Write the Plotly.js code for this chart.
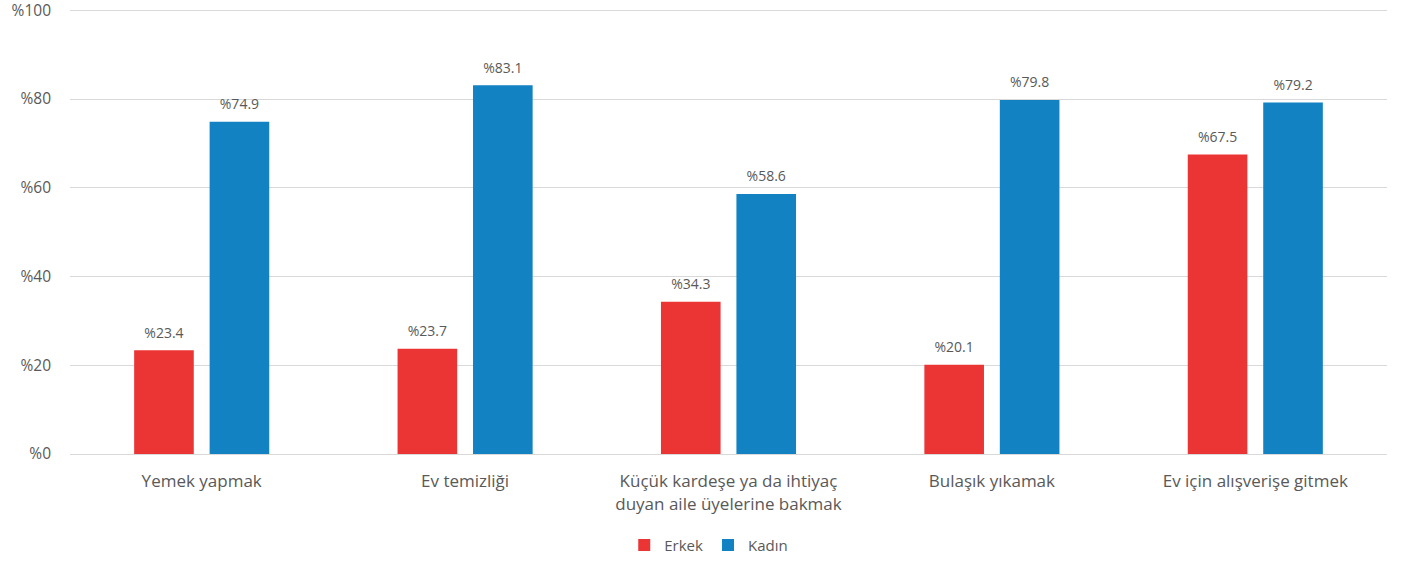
<!DOCTYPE html>
<html>
<head>
<meta charset="utf-8">
<script src="https://cdn.plot.ly/plotly-3.0.1.min.js"></script>
<style>html,body{margin:0;padding:0;background:#fff;}#chart{width:1403px;height:562px;}</style>
</head>
<body>
<div id="chart"></div>
<script>
const categories = ["Yemek yapmak", "Ev temizliği", "Küçük kardeşe ya da ihtiyaç<br>duyan aile üyelerine bakmak", "Bulaşık yıkamak", "Ev için alışverişe gitmek"];
const erkek = [23.4, 23.7, 34.3, 20.1, 67.5];
const kadin = [74.9, 83.1, 58.6, 79.8, 79.2];
const seriesNames = ["Erkek", "Kadın"];
const yTickVals = [0, 20, 40, 60, 80, 100];
const yTickText = ["%0", "%20", "%40", "%60", "%80", "%100"];

const font = "'Open Sans', sans-serif";
const gray = "#595959";

function bar(name, vals, color, grp) {
  return {
    type: "bar", name: name, x: categories, y: vals,
    marker: {color: color}, offsetgroup: grp,
    hoverinfo: "x+y"
  };
}
function lab(vals, grp) {
  return {
    type: "scatter", mode: "markers+text", x: categories, y: vals, offsetgroup: grp,
    text: vals.map(v => "%" + v.toFixed(1)),
    textposition: "top center",
    marker: {size: 13, opacity: 0},
    textfont: {family: font, size: 14, color: gray},
    cliponaxis: false, showlegend: false, hoverinfo: "skip"
  };
}

const data = [
  bar(seriesNames[0], erkek, "#EB3535", "e"),
  bar(seriesNames[1], kadin, "#1282C3", "k"),
  lab(erkek, "e"),
  lab(kadin, "k")
];

const layout = {
  width: 1403, height: 562,
  margin: {l: 70, r: 16, t: 9, b: 108, autoexpand: false},
  paper_bgcolor: "#fff", plot_bgcolor: "#fff",
  barmode: "group", bargap: 0.427, bargroupgap: 0.21,
  scattermode: "group", scattergap: 0.427,
  font: {family: font, color: gray},
  xaxis: {tickfont: {family: font, size: 17, color: gray}, showline: true, linecolor: "#D9D9D9", ticks: "", ticklabelstandoff: 12, automargin: false},
  yaxis: {range: [0, 100.3], tickmode: "array", tickvals: yTickVals, ticktext: yTickText, tickfont: {family: font, size: 15.5, color: gray},
          gridcolor: "#D9D9D9", zeroline: false, showline: false, ticks: "", ticklabelstandoff: 18, ticklabeloverflow: "allow", automargin: false},
  showlegend: true,
  legend: {orientation: "h", x: 0.485, xanchor: "center", y: -0.205, yanchor: "middle",
           font: {family: font, size: 15, color: gray}, itemwidth: 30, tracegroupgap: 0}
};

Plotly.newPlot("chart", data, layout, {displayModeBar: false, staticPlot: true});
</script>
</body>
</html>
